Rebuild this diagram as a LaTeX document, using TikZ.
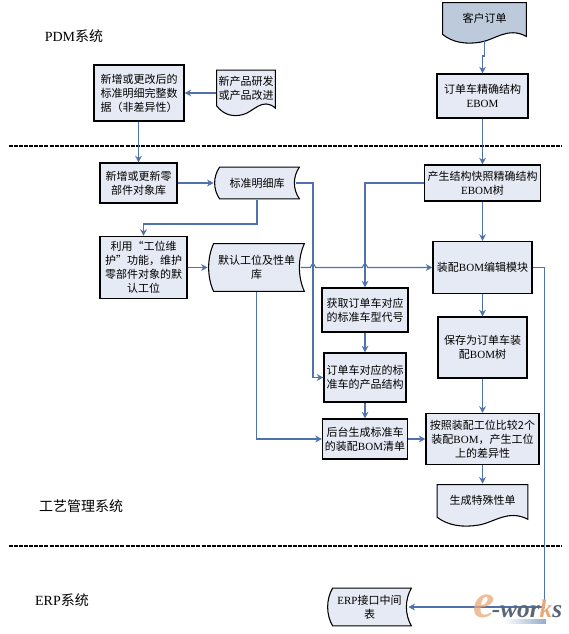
\documentclass[tikz,border=0pt]{standalone}
\usepackage{fontspec}
\setmainfont{Noto Sans CJK SC}
\newfontfamily\en{Liberation Serif}
\usepackage{tikz}
\usetikzlibrary{arrows.meta, calc}

\definecolor{flowblue}{HTML}{4F72AC}
\definecolor{paleblue}{HTML}{E6EAF4}
\definecolor{headblue}{HTML}{BCCADC}
\definecolor{logoorange}{HTML}{E9A878}
\definecolor{logoslate}{HTML}{5A6678}

\begin{document}
\begin{tikzpicture}[
    x=0.75pt, y=-0.75pt,
    sz/.style 2 args={minimum width=#1*0.75pt, minimum height=#2*0.75pt},
    txt/.style={align=center, inner sep=0pt, font=\fontsize{8.25}{10.5}\selectfont},
    box/.style={txt, rectangle, draw=black, line width=0.8pt, fill=paleblue},
    docbox/.style={txt, text depth=8pt, path picture={
        \draw[draw=black, line width=0.8pt, fill=#1]
            let \p1=($(path picture bounding box.north west)+(.45pt,-.45pt)$),
                \p2=($(path picture bounding box.south east)+(-.45pt,.45pt)$),
                \n1={\x2-\x1}, \n2={\y1-\y2} in
            (\x1,\y1) -- (\x2,\y1) -- (\x2,{\y2+.17*\n2})
            .. controls ({\x1+.78*\n1},{\y2+.42*\n2}) and ({\x1+.62*\n1},{\y2+.08*\n2})
            .. ({\x1+.45*\n1},{\y2+.03*\n2})
            .. controls ({\x1+.28*\n1},{\y2-.03*\n2}) and ({\x1+.12*\n1},{\y2+.02*\n2})
            .. (\x1,{\y2+.22*\n2}) -- cycle;}},
    docbox/.default=paleblue,
    store/.style={txt, path picture={
        \draw[draw=black, line width=0.8pt, fill=paleblue]
            let \p1=($(path picture bounding box.north west)+(.45pt,-.45pt)$),
                \p2=($(path picture bounding box.south east)+(-.45pt,.45pt)$),
                \n1={\y1-\y2} in
            ({\x1+3.75pt},\y1) -- (\x2,\y1)
            .. controls ({\x2-5pt},{\y1-.3*\n1}) and ({\x2-5pt},{\y1-.7*\n1}) .. (\x2,\y2)
            -- ({\x1+3.75pt},\y2)
            .. controls ({\x1-1.2pt},{\y1-.7*\n1}) and ({\x1-1.2pt},{\y1-.3*\n1}) .. ({\x1+3.75pt},\y1) -- cycle;}},
    flow/.style={draw=flowblue, line width=0.8pt, -{Stealth[length=5pt,width=5pt]}},
    sepline/.style={draw=black, line width=1.2pt, dash pattern=on 3pt off 0.8pt},
    system/.style={inner sep=0pt, font=\fontsize{10.5}{12}\selectfont}
]
    \useasboundingbox (0,0) rectangle (568,634);

    % System borders
    \draw[sepline] (9,146) -- (562,146);
    \draw[sepline] (9,546) -- (562,546);

    \node[system] (pdm)  at (74,36)  {{\en PDM}系统};
    \node[system] (proc) at (81,506) {工艺管理系统};
    \node[system] (erp)  at (62,600) {{\en ERP}系统};

    % PDM side
    \node[box, sz={90}{56}] (fulldata) at (139,93) {新增或更改后的\\标准明细完整数\\据（非差异性）};
    \node[docbox, sz={60}{47}] (newprod) at (246,93) {新产品研发\\或产品改进};
    \node[docbox=headblue, sz={85}{42}] (order) at (484.5,23) {客户订单};
    \node[box, sz={91}{44}] (orderbom) at (482.5,96) {订单车精确结构\\{\en EBOM}};

    % Process side, left column
    \node[box, sz={77}{40}] (partlib) at (138.5,183) {新增或更新零\\部件对象库};
    \node[store, sz={86}{33}] (stdlib) at (257,183) {标准明细库};
    \node[box, sz={87}{62}] (maintain) at (143.5,267.5) {利用“工位维\\护”功能，维护\\零部件对象的默\\认工位};
    \node[store, sz={97}{49}] (deflib) at (256.5,267.5) {默认工位及性单\\库};

    % Process side, middle column
    \node[box, sz={86}{44}] (fetch) at (365,310) {获取订单车对应\\的标准车型代号};
    \node[box, sz={82}{49}] (carstruct) at (365,377.5) {订单车对应的标\\准车的产品结构};
    \node[box, sz={85}{40}] (genlist) at (365,439) {后台生成标准车\\的装配{\en BOM}清单};

    % Process side, right column
    \node[box, sz={116}{36}] (ebomtree) at (482.5,183) {产生结构快照精确结构\\{\en EBOM}树};
    \node[box, sz={99}{52}] (editbom) at (482.5,267.5) {装配{\en BOM}编辑模块};
    \node[box, sz={89}{61}] (savetree) at (482.5,347.5) {保存为订单车装\\配{\en BOM}树};
    \node[box, sz={113}{51}] (compare) at (482.5,439) {按照装配工位比较2个\\装配{\en BOM}，产生工位\\上的差异性};
    \node[docbox, sz={92}{43}] (special) at (482.5,505.5) {生成特殊性单};

    % ERP side
    \node[store, sz={85}{39}] (erptable) at (369.5,607) {{\en ERP}接口中间\\表};

    % Connectors
    \draw[flow] (newprod) -- (fulldata);
    \draw[flow] (fulldata.south -| partlib.north) -- (partlib.north);
    \draw[flow] (partlib) -- (stdlib);
    \draw[flow] (stdlib.south) -- (257,224) -| (maintain.north);
    \draw[flow] (maintain) -- (deflib);
    \draw[flow] ([xshift=-3pt]stdlib.east) -- (313,183) |- (carstruct.west);
    \draw[flow] (deflib.south) |- (genlist.west);
    \draw[flow] ([xshift=-3.5pt]deflib.east) -- (310.5,267.5)
        .. controls (311.5,263) and (314.5,263) .. (315.5,267.5)
        -- (362.5,267.5)
        .. controls (363.5,263) and (366.5,263) .. (367.5,267.5)
        -- (editbom.west);
    \draw[flow] ([yshift=3pt]order.south) -- (484.5,56) -| (orderbom.north);
    \draw[flow] (orderbom) -- (ebomtree);
    \draw[flow] (ebomtree) -- (editbom);
    \draw[flow] (ebomtree.west) -| (fetch.north);
    \draw[flow] (fetch) -- (carstruct);
    \draw[flow] (carstruct) -- (genlist);
    \draw[flow] (genlist) -- (compare);
    \draw[flow] (editbom) -- (savetree);
    \draw[flow] (savetree) -- (compare);
    \draw[flow] (compare) -- (special);
    \draw[flow] (editbom.east) -- (544.5,267.5) |- ([xshift=-3pt]erptable.east);

    % Logo
    \node[inner sep=0pt, opacity=.75, text=logoorange, font=\en\bfseries\itshape\fontsize{36}{36}\selectfont] (logoe) at (484,606) {e};
    \node[inner sep=0pt, text=logoslate, font=\en\bfseries\itshape\fontsize{19}{19}\selectfont] (logow) at (527,609) {-wor{\color{logoorange}k}s};
    \shade[left color=white, right color=flowblue!60] (503,619) rectangle (546,623);
\end{tikzpicture}
\end{document}
